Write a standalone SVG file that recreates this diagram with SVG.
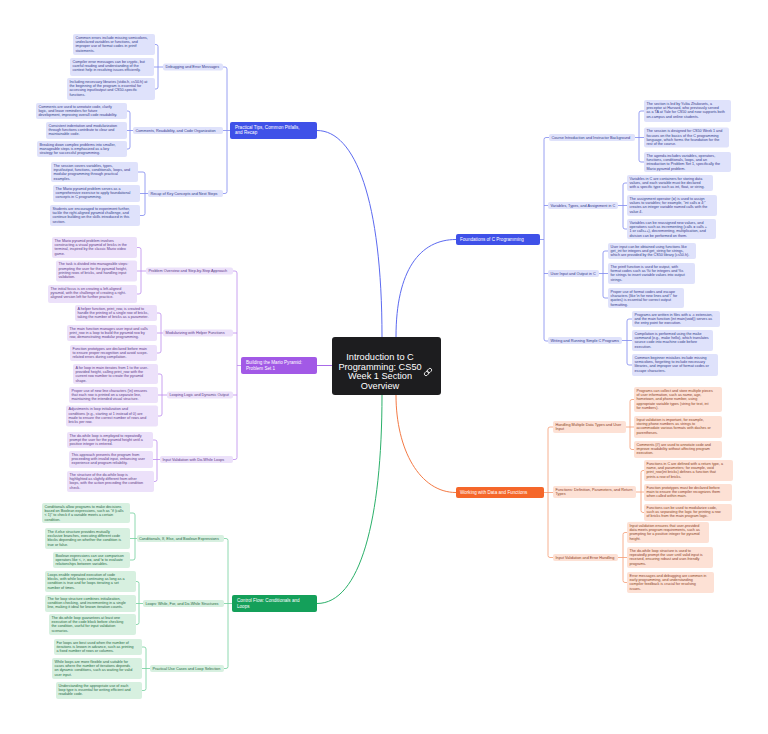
<svg xmlns="http://www.w3.org/2000/svg" width="768" height="734" viewBox="0 0 768 734">
<style>
.t{font-family:"Liberation Sans",Arial,sans-serif;font-size:3.7px}
.lab{font-family:"Liberation Sans",Arial,sans-serif;font-size:3.8px}
.br{font-family:"Liberation Sans",Arial,sans-serif;font-size:4.6px;fill:#fff}
.lf{stroke:none}
.fb{fill:#dfe2fb}.tb{fill:#343a8c}
.fp{fill:#ece1fa}.tp{fill:#5b3a88}
.fg{fill:#d7f0e0}.tg{fill:#1f6a43}
.fo{fill:#fde1d5}.to{fill:#8c3f1e}
.cb{fill:none;stroke:#7f89ef;stroke-width:0.8}
.cp{fill:none;stroke:#bb8cec;stroke-width:0.8}
.cg{fill:none;stroke:#72cf9c;stroke-width:0.8}
.co{fill:none;stroke:#f59c74;stroke-width:0.8}
</style>
<rect width="768" height="734" fill="#ffffff"/>
<g id="connectors">
<path d="M317 130.5C355 130.5 382 200 382 337" fill="none" stroke="#5c6af0" stroke-width="1"/>
<path d="M396 337C396 270 420 239.5 456 239.5" fill="none" stroke="#5c6af0" stroke-width="1"/>
<path d="M317 365.5H332" fill="none" stroke="#a86ae8" stroke-width="1"/>
<path d="M382 395C382 520 360 603.5 317 603.5" fill="none" stroke="#2bb06a" stroke-width="1"/>
<path d="M396 395C396 450 420 492.5 456 492.5" fill="none" stroke="#f47a45" stroke-width="1"/>
<path class="cb" d="M223 67H225Q227 67 227 69V191.5Q227 193.5 225 193.5H223M223 130.5H230"/>
<path class="cb" d="M155 44.5H156Q158 44.5 158 46.5V87Q158 89 156 89H155M154 67H163"/>
<path class="cb" d="M127 111H128Q130 111 130 113V147Q130 149 128 149H127M127 130.5H133"/>
<path class="cb" d="M138 172H143Q145 172 145 174V213.5Q145 215.5 143 215.5H140M140 193.5H148"/>
<path class="cp" d="M233 271H235Q237 271 237 273V457.5Q237 459.5 235 459.5H233M233 333H237M233 395H237M237 365.5H241"/>
<path class="cp" d="M137 247.5H139Q141 247.5 141 249.5V292Q141 294 139 294H137M137 271H146"/>
<path class="cp" d="M157 313H159Q161 313 161 315V351Q161 353 159 353H157M157 333H163"/>
<path class="cp" d="M158 374H160Q162 374 162 376V414Q162 416 160 416H158M158 395H167"/>
<path class="cp" d="M153 440H155Q157 440 157 442V479.5Q157 481.5 155 481.5H154M153 459.5H160"/>
<path class="cg" d="M224 538.5H226Q228 538.5 228 540.5V666.5Q228 668.5 226 668.5H224M224 603.5H232"/>
<path class="cg" d="M130 513H133Q135 513 135 515V558Q135 560 133 560H130M130 538.5H137"/>
<path class="cg" d="M136 581.5H137Q139 581.5 139 583.5V622.5Q139 624.5 137 624.5H136M136 603.5H143"/>
<path class="cg" d="M142 647H144Q146 647 146 649V688.5Q146 690.5 144 690.5H142M142 668.5H150"/>
<path class="cb" d="M549 137.5H546Q544 137.5 544 139.5V339Q544 341 546 341H548M548 205.5H544M548 273.5H544M540 239.5H544"/>
<path class="cb" d="M644 111H641Q639 111 639 113V160Q639 162 641 162H644M635 137.5H644"/>
<path class="cb" d="M627 183H625Q623 183 623 185V227Q623 229 625 229H627M618 205.5H627"/>
<path class="cb" d="M608 251H605Q603 251 603 253V296Q603 298 605 298H608M599 273.5H608"/>
<path class="cb" d="M632 319H629Q627 319 627 321V363Q627 365 629 365H632M622 340.5H632"/>
<path class="co" d="M553 427H550Q548 427 548 429V555.5Q548 557.5 550 557.5H553M544 492.5H553"/>
<path class="co" d="M634 399.5H632Q630 399.5 630 401.5V447.5Q630 449.5 632 449.5H634M626 427H634"/>
<path class="co" d="M644 470.5H643Q641 470.5 641 472.5V510.5Q641 512.5 643 512.5H644M636 492H644"/>
<path class="co" d="M627 532.5H625Q623 532.5 623 534.5V580.5Q623 582.5 625 582.5H627M618 557.5H627"/>
</g>

<g id="center">
<rect x="332" y="337" width="109" height="58" rx="3" fill="#1d1d1f"/>
<text font-family="'Liberation Sans',Arial,sans-serif" font-size="9.2" fill="#fff" text-anchor="middle" x="380" y="360"><tspan x="380">Introduction to C</tspan><tspan x="380" dy="9.7">Programming: CS50</tspan><tspan x="380" dy="9.7">Week 1 Section</tspan><tspan x="380" dy="9.7">Overview</tspan></text>
<g fill="none" stroke="#fff" stroke-width="0.8" transform="rotate(-45 428 372)"><rect x="423.5" y="370.3" width="5" height="3.4" rx="1.7"/><rect x="427.5" y="370.3" width="5" height="3.4" rx="1.7"/></g>
</g>

<g id="practical"><rect x="230" y="122" width="87" height="17" rx="2" fill="#3f51e8"/><text class="br" x="235" y="128.5"><tspan x="235">Practical Tips, Common Pitfalls,</tspan><tspan x="235" dy="5.6">and Recap</tspan></text></g>
<g id="foundations"><rect x="456" y="234" width="84" height="11" rx="2" fill="#3f51e8"/><text class="br" x="460" y="241.2">Foundations of C Programming</text></g>
<g id="mario"><rect x="241" y="357" width="76" height="17" rx="2" fill="#a259e6"/><text class="br" x="246" y="364"><tspan x="246">Building the Mario Pyramid:</tspan><tspan x="246" dy="5.6">Problem Set 1</tspan></text></g>
<g id="control"><rect x="232" y="595" width="85" height="17" rx="2" fill="#14a05a"/><text class="br" x="237" y="602"><tspan x="237">Control Flow: Conditionals and</tspan><tspan x="237" dy="5.6">Loops</tspan></text></g>
<g id="working"><rect x="456" y="487" width="88" height="11" rx="2" fill="#f5672a"/><text class="br" x="460" y="494.2">Working with Data and Functions</text></g>

<g id="lab-debug"><rect class="fb" x="163" y="63.5" width="60" height="7" rx="2"/><text class="lab tb" x="165.5" y="68.3">Debugging and Error Messages</text></g>
<g id="lab-comments"><rect class="fb" x="133" y="127" width="90" height="7" rx="2"/><text class="lab tb" x="135.5" y="131.8">Comments, Readability, and Code Organization</text></g>
<g id="lab-recap"><rect class="fb" x="148" y="190" width="75" height="7" rx="2"/><text class="lab tb" x="150.5" y="194.8">Recap of Key Concepts and Next Steps</text></g>

<g id="d1"><rect class="fb" x="73" y="34" width="82" height="21" rx="2"/><text class="t tb" x="75.5" y="38.6"><tspan x="75.5">Common errors include missing semicolons,</tspan><tspan x="75.5" dy="4.4">undeclared variables or functions, and</tspan><tspan x="75.5" dy="4.4">improper use of format codes in printf</tspan><tspan x="75.5" dy="4.4">statements.</tspan></text></g>
<g id="d2"><rect class="fb" x="70" y="58" width="84" height="18" rx="2"/><text class="t tb" x="72.5" y="62.6"><tspan x="72.5">Compiler error messages can be cryptic, but</tspan><tspan x="72.5" dy="4.4">careful reading and understanding of the</tspan><tspan x="72.5" dy="4.4">context help in resolving issues efficiently.</tspan></text></g>
<g id="d3"><rect class="fb" x="67" y="78" width="88" height="22" rx="2"/><text class="t tb" x="69.5" y="82.6"><tspan x="69.5">Including necessary libraries (stdio.h, cs50.h) at</tspan><tspan x="69.5" dy="4.4">the beginning of the program is essential for</tspan><tspan x="69.5" dy="4.4">accessing input/output and CS50-specific</tspan><tspan x="69.5" dy="4.4">functions.</tspan></text></g>
<g id="c1"><rect class="fb" x="36" y="103" width="91" height="16" rx="2"/><text class="t tb" x="38.5" y="107.6"><tspan x="38.5">Comments are used to annotate code, clarify</tspan><tspan x="38.5" dy="4.4">logic, and leave reminders for future</tspan><tspan x="38.5" dy="4.4">development, improving overall code readability.</tspan></text></g>
<g id="c2"><rect class="fb" x="46" y="122" width="81" height="17" rx="2"/><text class="t tb" x="48.5" y="126.6"><tspan x="48.5">Consistent indentation and modularization</tspan><tspan x="48.5" dy="4.4">through functions contribute to clear and</tspan><tspan x="48.5" dy="4.4">maintainable code.</tspan></text></g>
<g id="c3"><rect class="fb" x="37" y="141" width="90" height="16" rx="2"/><text class="t tb" x="39.5" y="145.6"><tspan x="39.5">Breaking down complex problems into smaller,</tspan><tspan x="39.5" dy="4.4">manageable steps is emphasized as a key</tspan><tspan x="39.5" dy="4.4">strategy for successful programming.</tspan></text></g>
<g id="r1"><rect class="fb" x="51" y="162" width="87" height="20" rx="2"/><text class="t tb" x="53.5" y="166.6"><tspan x="53.5">The session covers variables, types,</tspan><tspan x="53.5" dy="4.4">input/output, functions, conditionals, loops, and</tspan><tspan x="53.5" dy="4.4">modular programming through practical</tspan><tspan x="53.5" dy="4.4">examples.</tspan></text></g>
<g id="r2"><rect class="fb" x="53" y="185" width="87" height="17" rx="2"/><text class="t tb" x="55.5" y="189.6"><tspan x="55.5">The Mario pyramid problem serves as a</tspan><tspan x="55.5" dy="4.4">comprehensive exercise to apply foundational</tspan><tspan x="55.5" dy="4.4">concepts in C programming.</tspan></text></g>
<g id="r3"><rect class="fb" x="50" y="205" width="90" height="21" rx="2"/><text class="t tb" x="52.5" y="209.6"><tspan x="52.5">Students are encouraged to experiment further,</tspan><tspan x="52.5" dy="4.4">tackle the right-aligned pyramid challenge, and</tspan><tspan x="52.5" dy="4.4">continue building on the skills introduced in this</tspan><tspan x="52.5" dy="4.4">section.</tspan></text></g>

<g id="lab-problem"><rect class="fp" x="146" y="267.5" width="87" height="7" rx="2"/><text class="lab tp" x="148.5" y="272.3">Problem Overview and Step-by-Step Approach</text></g>
<g id="lab-modular"><rect class="fp" x="163" y="329.5" width="70" height="7" rx="2"/><text class="lab tp" x="165.5" y="334.3">Modularizing with Helper Functions</text></g>
<g id="lab-looping"><rect class="fp" x="167" y="391.5" width="66" height="7" rx="2"/><text class="lab tp" x="169.5" y="396.3">Looping Logic and Dynamic Output</text></g>
<g id="lab-inputval"><rect class="fp" x="160" y="456" width="73" height="7" rx="2"/><text class="lab tp" x="162.5" y="460.8">Input Validation with Do-While Loops</text></g>

<g id="p1"><rect class="fp" x="52" y="237" width="85" height="21" rx="2"/><text class="t tp" x="54.5" y="241.6"><tspan x="54.5">The Mario pyramid problem involves</tspan><tspan x="54.5" dy="4.4">constructing a visual pyramid of bricks in the</tspan><tspan x="54.5" dy="4.4">terminal, inspired by the classic Mario video</tspan><tspan x="54.5" dy="4.4">game.</tspan></text></g>
<g id="p2"><rect class="fp" x="56" y="260.5" width="81" height="21" rx="2"/><text class="t tp" x="58.5" y="265.1"><tspan x="58.5">The task is divided into manageable steps:</tspan><tspan x="58.5" dy="4.4">prompting the user for the pyramid height,</tspan><tspan x="58.5" dy="4.4">printing rows of bricks, and handling input</tspan><tspan x="58.5" dy="4.4">validation.</tspan></text></g>
<g id="p3"><rect class="fp" x="48" y="285" width="89" height="18" rx="2"/><text class="t tp" x="50.5" y="289.6"><tspan x="50.5">The initial focus is on creating a left-aligned</tspan><tspan x="50.5" dy="4.4">pyramid, with the challenge of creating a right-</tspan><tspan x="50.5" dy="4.4">aligned version left for further practice.</tspan></text></g>
<g id="m1"><rect class="fp" x="75" y="305" width="82" height="16" rx="2"/><text class="t tp" x="77.5" y="309.6"><tspan x="77.5">A helper function, print_row, is created to</tspan><tspan x="77.5" dy="4.4">handle the printing of a single row of bricks,</tspan><tspan x="77.5" dy="4.4">taking the number of bricks as a parameter.</tspan></text></g>
<g id="m2"><rect class="fp" x="67" y="325" width="90" height="16" rx="2"/><text class="t tp" x="69.5" y="329.6"><tspan x="69.5">The main function manages user input and calls</tspan><tspan x="69.5" dy="4.4">print_row in a loop to build the pyramid row by</tspan><tspan x="69.5" dy="4.4">row, demonstrating modular programming.</tspan></text></g>
<g id="m3"><rect class="fp" x="70" y="345" width="87" height="16" rx="2"/><text class="t tp" x="72.5" y="349.6"><tspan x="72.5">Function prototypes are declared before main</tspan><tspan x="72.5" dy="4.4">to ensure proper recognition and avoid scope-</tspan><tspan x="72.5" dy="4.4">related errors during compilation.</tspan></text></g>
<g id="l1"><rect class="fp" x="73" y="364" width="85" height="20" rx="2"/><text class="t tp" x="75.5" y="368.6"><tspan x="75.5">A for loop in main iterates from 1 to the user-</tspan><tspan x="75.5" dy="4.4">provided height, calling print_row with the</tspan><tspan x="75.5" dy="4.4">current row number to create the pyramid</tspan><tspan x="75.5" dy="4.4">shape.</tspan></text></g>
<g id="l2"><rect class="fp" x="69" y="387" width="89" height="16" rx="2"/><text class="t tp" x="71.5" y="391.6"><tspan x="71.5">Proper use of new line characters (\n) ensures</tspan><tspan x="71.5" dy="4.4">that each row is printed on a separate line,</tspan><tspan x="71.5" dy="4.4">maintaining the intended visual structure.</tspan></text></g>
<g id="l3"><rect class="fp" x="66" y="405.5" width="92" height="21" rx="2"/><text class="t tp" x="68.5" y="410.1"><tspan x="68.5">Adjustments in loop initialization and</tspan><tspan x="68.5" dy="4.4">conditions (e.g., starting at 1 instead of 0) are</tspan><tspan x="68.5" dy="4.4">made to ensure the correct number of rows and</tspan><tspan x="68.5" dy="4.4">bricks per row.</tspan></text></g>
<g id="i1"><rect class="fp" x="67" y="432" width="86" height="16" rx="2"/><text class="t tp" x="69.5" y="436.6"><tspan x="69.5">The do-while loop is employed to repeatedly</tspan><tspan x="69.5" dy="4.4">prompt the user for the pyramid height until a</tspan><tspan x="69.5" dy="4.4">positive integer is entered.</tspan></text></g>
<g id="i2"><rect class="fp" x="69" y="451" width="84" height="17" rx="2"/><text class="t tp" x="71.5" y="455.6"><tspan x="71.5">This approach prevents the program from</tspan><tspan x="71.5" dy="4.4">proceeding with invalid input, enhancing user</tspan><tspan x="71.5" dy="4.4">experience and program reliability.</tspan></text></g>
<g id="i3"><rect class="fp" x="67" y="471" width="87" height="21" rx="2"/><text class="t tp" x="69.5" y="475.6"><tspan x="69.5">The structure of the do-while loop is</tspan><tspan x="69.5" dy="4.4">highlighted as slightly different from other</tspan><tspan x="69.5" dy="4.4">loops, with the action preceding the condition</tspan><tspan x="69.5" dy="4.4">check.</tspan></text></g>

<g id="lab-cond"><rect class="fg" x="137" y="535" width="87" height="7" rx="2"/><text class="lab tg" x="139" y="539.8">Conditionals, If, Else, and Boolean Expressions</text></g>
<g id="lab-loops"><rect class="fg" x="143" y="600" width="81" height="7" rx="2"/><text class="lab tg" x="145.5" y="604.8">Loops: While, For, and Do-While Structures</text></g>
<g id="lab-usecases"><rect class="fg" x="150" y="665" width="74" height="7" rx="2"/><text class="lab tg" x="152.5" y="669.8">Practical Use Cases and Loop Selection</text></g>

<g id="g1"><rect class="fg" x="42" y="503" width="88" height="20" rx="2"/><text class="t tg" x="44.5" y="507.6"><tspan x="44.5">Conditionals allow programs to make decisions</tspan><tspan x="44.5" dy="4.4">based on Boolean expressions, such as "if (calls</tspan><tspan x="44.5" dy="4.4">&lt; 1)" to check if a variable meets a certain</tspan><tspan x="44.5" dy="4.4">condition.</tspan></text></g>
<g id="g2"><rect class="fg" x="45" y="528" width="85" height="21" rx="2"/><text class="t tg" x="47.5" y="532.6"><tspan x="47.5">The if-else structure provides mutually</tspan><tspan x="47.5" dy="4.4">exclusive branches, executing different code</tspan><tspan x="47.5" dy="4.4">blocks depending on whether the condition is</tspan><tspan x="47.5" dy="4.4">true or false.</tspan></text></g>
<g id="g3"><rect class="fg" x="53" y="552" width="77" height="16" rx="2"/><text class="t tg" x="55.5" y="556.6"><tspan x="55.5">Boolean expressions can use comparison</tspan><tspan x="55.5" dy="4.4">operators like &lt;, &gt;, ==, and != to evaluate</tspan><tspan x="55.5" dy="4.4">relationships between variables.</tspan></text></g>
<g id="o1"><rect class="fg" x="45" y="571" width="91" height="21" rx="2"/><text class="t tg" x="47.5" y="575.6"><tspan x="47.5">Loops enable repeated execution of code</tspan><tspan x="47.5" dy="4.4">blocks, with while loops continuing as long as a</tspan><tspan x="47.5" dy="4.4">condition is true and for loops iterating a set</tspan><tspan x="47.5" dy="4.4">number of times.</tspan></text></g>
<g id="o2"><rect class="fg" x="45" y="595" width="91" height="17" rx="2"/><text class="t tg" x="47.5" y="599.6"><tspan x="47.5">The for loop structure combines initialization,</tspan><tspan x="47.5" dy="4.4">condition checking, and incrementing in a single</tspan><tspan x="47.5" dy="4.4">line, making it ideal for known iteration counts.</tspan></text></g>
<g id="o3"><rect class="fg" x="49" y="614" width="87" height="21" rx="2"/><text class="t tg" x="51.5" y="618.6"><tspan x="51.5">The do-while loop guarantees at least one</tspan><tspan x="51.5" dy="4.4">execution of the code block before checking</tspan><tspan x="51.5" dy="4.4">the condition, useful for input validation</tspan><tspan x="51.5" dy="4.4">scenarios.</tspan></text></g>
<g id="u1"><rect class="fg" x="54" y="639" width="88" height="16" rx="2"/><text class="t tg" x="56.5" y="643.6"><tspan x="56.5">For loops are best used when the number of</tspan><tspan x="56.5" dy="4.4">iterations is known in advance, such as printing</tspan><tspan x="56.5" dy="4.4">a fixed number of rows or columns.</tspan></text></g>
<g id="u2"><rect class="fg" x="52" y="658" width="90" height="21" rx="2"/><text class="t tg" x="54.5" y="662.6"><tspan x="54.5">While loops are more flexible and suitable for</tspan><tspan x="54.5" dy="4.4">cases where the number of iterations depends</tspan><tspan x="54.5" dy="4.4">on dynamic conditions, such as waiting for valid</tspan><tspan x="54.5" dy="4.4">user input.</tspan></text></g>
<g id="u3"><rect class="fg" x="56" y="682" width="86" height="17" rx="2"/><text class="t tg" x="58.5" y="686.6"><tspan x="58.5">Understanding the appropriate use of each</tspan><tspan x="58.5" dy="4.4">loop type is essential for writing efficient and</tspan><tspan x="58.5" dy="4.4">readable code.</tspan></text></g>

<g id="lab-course"><rect class="fb" x="549" y="134" width="86" height="7" rx="2"/><text class="lab tb" x="551.5" y="138.8">Course Introduction and Instructor Background</text></g>
<g id="lab-vars"><rect class="fb" x="548" y="202" width="70" height="7" rx="2"/><text class="lab tb" x="550.5" y="206.8">Variables, Types, and Assignment in C</text></g>
<g id="lab-io"><rect class="fb" x="548" y="270" width="51" height="7" rx="2"/><text class="lab tb" x="550.5" y="274.8">User Input and Output in C</text></g>
<g id="lab-writing"><rect class="fb" x="548" y="337" width="74" height="7" rx="2"/><text class="lab tb" x="550.5" y="341.8">Writing and Running Simple C Programs</text></g>

<g id="fa1"><rect class="fb" x="644" y="100" width="87" height="22" rx="2"/><text class="t tb" x="646.5" y="104.6"><tspan x="646.5">The section is led by Yuliia Zhukovets, a</tspan><tspan x="646.5" dy="4.4">preceptor at Harvard, who previously served</tspan><tspan x="646.5" dy="4.4">as a TA at Yale for CS50 and now supports both</tspan><tspan x="646.5" dy="4.4">on-campus and online students.</tspan></text></g>
<g id="fa2"><rect class="fb" x="644" y="127.5" width="85" height="20" rx="2"/><text class="t tb" x="646.5" y="132.1"><tspan x="646.5">The session is designed for CS50 Week 1 and</tspan><tspan x="646.5" dy="4.4">focuses on the basics of the C programming</tspan><tspan x="646.5" dy="4.4">language, which forms the foundation for the</tspan><tspan x="646.5" dy="4.4">rest of the course.</tspan></text></g>
<g id="fa3"><rect class="fb" x="644" y="152" width="87" height="20" rx="2"/><text class="t tb" x="646.5" y="156.6"><tspan x="646.5">The agenda includes variables, operators,</tspan><tspan x="646.5" dy="4.4">functions, conditionals, loops, and an</tspan><tspan x="646.5" dy="4.4">introduction to Problem Set 1, specifically the</tspan><tspan x="646.5" dy="4.4">Mario pyramid problem.</tspan></text></g>
<g id="fb1"><rect class="fb" x="627" y="175" width="86" height="16" rx="2"/><text class="t tb" x="629.5" y="179.6"><tspan x="629.5">Variables in C are containers for storing data</tspan><tspan x="629.5" dy="4.4">values, and each variable must be declared</tspan><tspan x="629.5" dy="4.4">with a specific type such as int, float, or string.</tspan></text></g>
<g id="fb2"><rect class="fb" x="627" y="195" width="90" height="21" rx="2"/><text class="t tb" x="629.5" y="199.6"><tspan x="629.5">The assignment operator (=) is used to assign</tspan><tspan x="629.5" dy="4.4">values to variables; for example, "int calls = 4;"</tspan><tspan x="629.5" dy="4.4">creates an integer variable named calls with the</tspan><tspan x="629.5" dy="4.4">value 4.</tspan></text></g>
<g id="fb3"><rect class="fb" x="627" y="219" width="89" height="20" rx="2"/><text class="t tb" x="629.5" y="223.6"><tspan x="629.5">Variables can be reassigned new values, and</tspan><tspan x="629.5" dy="4.4">operations such as incrementing (calls = calls +</tspan><tspan x="629.5" dy="4.4">1 or calls++), decrementing, multiplication, and</tspan><tspan x="629.5" dy="4.4">division can be performed on them.</tspan></text></g>
<g id="fc1"><rect class="fb" x="608" y="243" width="88" height="16" rx="2"/><text class="t tb" x="610.5" y="247.6"><tspan x="610.5">User input can be obtained using functions like</tspan><tspan x="610.5" dy="4.4">get_int for integers and get_string for strings,</tspan><tspan x="610.5" dy="4.4">which are provided by the CS50 library (cs50.h).</tspan></text></g>
<g id="fc2"><rect class="fb" x="608" y="263" width="87" height="21" rx="2"/><text class="t tb" x="610.5" y="267.6"><tspan x="610.5">The printf function is used for output, with</tspan><tspan x="610.5" dy="4.4">format codes such as %i for integers and %s</tspan><tspan x="610.5" dy="4.4">for strings to insert variable values into output</tspan><tspan x="610.5" dy="4.4">strings.</tspan></text></g>
<g id="fc3"><rect class="fb" x="608" y="288" width="76" height="20" rx="2"/><text class="t tb" x="610.5" y="292.6"><tspan x="610.5">Proper use of format codes and escape</tspan><tspan x="610.5" dy="4.4">characters (like \n for new lines and \" for</tspan><tspan x="610.5" dy="4.4">quotes) is essential for correct output</tspan><tspan x="610.5" dy="4.4">formatting.</tspan></text></g>
<g id="fd1"><rect class="fb" x="632" y="311" width="88" height="16" rx="2"/><text class="t tb" x="634.5" y="315.6"><tspan x="634.5">Programs are written in files with a .c extension,</tspan><tspan x="634.5" dy="4.4">and the main function (int main(void)) serves as</tspan><tspan x="634.5" dy="4.4">the entry point for execution.</tspan></text></g>
<g id="fd2"><rect class="fb" x="632" y="330" width="81" height="21" rx="2"/><text class="t tb" x="634.5" y="334.6"><tspan x="634.5">Compilation is performed using the make</tspan><tspan x="634.5" dy="4.4">command (e.g., make hello), which translates</tspan><tspan x="634.5" dy="4.4">source code into machine code before</tspan><tspan x="634.5" dy="4.4">execution.</tspan></text></g>
<g id="fd3"><rect class="fb" x="632" y="354" width="86" height="22" rx="2"/><text class="t tb" x="634.5" y="358.6"><tspan x="634.5">Common beginner mistakes include missing</tspan><tspan x="634.5" dy="4.4">semicolons, forgetting to include necessary</tspan><tspan x="634.5" dy="4.4">libraries, and improper use of format codes or</tspan><tspan x="634.5" dy="4.4">escape characters.</tspan></text></g>

<g id="lab-handling"><rect class="fo" x="553" y="421" width="73" height="12" rx="2"/><text class="lab to" x="555.5" y="425.8"><tspan x="555.5">Handling Multiple Data Types and User</tspan><tspan x="555.5" dy="4.6">Input</tspan></text></g>
<g id="lab-functions"><rect class="fo" x="553" y="486" width="83" height="12" rx="2"/><text class="lab to" x="555.5" y="490.8"><tspan x="555.5">Functions: Definition, Parameters, and Return</tspan><tspan x="555.5" dy="4.6">Types</tspan></text></g>
<g id="lab-errors"><rect class="fo" x="553" y="554" width="65" height="7" rx="2"/><text class="lab to" x="555.5" y="558.8">Input Validation and Error Handling</text></g>

<g id="wa1"><rect class="fo" x="634" y="387" width="88" height="25" rx="2"/><text class="t to" x="636.5" y="391.6"><tspan x="636.5">Programs can collect and store multiple pieces</tspan><tspan x="636.5" dy="4.4">of user information, such as name, age,</tspan><tspan x="636.5" dy="4.4">hometown, and phone number, using</tspan><tspan x="636.5" dy="4.4">appropriate variable types (string for text, int</tspan><tspan x="636.5" dy="4.4">for numbers).</tspan></text></g>
<g id="wa2"><rect class="fo" x="634" y="416" width="88" height="22" rx="2"/><text class="t to" x="636.5" y="420.6"><tspan x="636.5">Input validation is important, for example,</tspan><tspan x="636.5" dy="4.4">storing phone numbers as strings to</tspan><tspan x="636.5" dy="4.4">accommodate various formats with dashes or</tspan><tspan x="636.5" dy="4.4">parentheses.</tspan></text></g>
<g id="wa3"><rect class="fo" x="634" y="441" width="88" height="17" rx="2"/><text class="t to" x="636.5" y="445.6"><tspan x="636.5">Comments (//) are used to annotate code and</tspan><tspan x="636.5" dy="4.4">improve readability without affecting program</tspan><tspan x="636.5" dy="4.4">execution.</tspan></text></g>
<g id="wb1"><rect class="fo" x="644" y="460" width="89" height="21" rx="2"/><text class="t to" x="646.5" y="464.6"><tspan x="646.5">Functions in C are defined with a return type, a</tspan><tspan x="646.5" dy="4.4">name, and parameters; for example, void</tspan><tspan x="646.5" dy="4.4">print_row(int bricks) defines a function that</tspan><tspan x="646.5" dy="4.4">prints a row of bricks.</tspan></text></g>
<g id="wb2"><rect class="fo" x="644" y="484" width="88" height="17" rx="2"/><text class="t to" x="646.5" y="488.6"><tspan x="646.5">Function prototypes must be declared before</tspan><tspan x="646.5" dy="4.4">main to ensure the compiler recognizes them</tspan><tspan x="646.5" dy="4.4">when called within main.</tspan></text></g>
<g id="wb3"><rect class="fo" x="644" y="504" width="88" height="17" rx="2"/><text class="t to" x="646.5" y="508.6"><tspan x="646.5">Functions can be used to modularize code,</tspan><tspan x="646.5" dy="4.4">such as separating the logic for printing a row</tspan><tspan x="646.5" dy="4.4">of bricks from the main program logic.</tspan></text></g>
<g id="wc1"><rect class="fo" x="627" y="522" width="82" height="21" rx="2"/><text class="t to" x="629.5" y="526.6"><tspan x="629.5">Input validation ensures that user-provided</tspan><tspan x="629.5" dy="4.4">data meets program requirements, such as</tspan><tspan x="629.5" dy="4.4">prompting for a positive integer for pyramid</tspan><tspan x="629.5" dy="4.4">height.</tspan></text></g>
<g id="wc2"><rect class="fo" x="627" y="547" width="86" height="21" rx="2"/><text class="t to" x="629.5" y="551.6"><tspan x="629.5">The do-while loop structure is used to</tspan><tspan x="629.5" dy="4.4">repeatedly prompt the user until valid input is</tspan><tspan x="629.5" dy="4.4">received, ensuring robust and user-friendly</tspan><tspan x="629.5" dy="4.4">programs.</tspan></text></g>
<g id="wc3"><rect class="fo" x="627" y="572" width="87" height="21" rx="2"/><text class="t to" x="629.5" y="576.6"><tspan x="629.5">Error messages and debugging are common in</tspan><tspan x="629.5" dy="4.4">early programming, and understanding</tspan><tspan x="629.5" dy="4.4">compiler feedback is crucial for resolving</tspan><tspan x="629.5" dy="4.4">issues.</tspan></text></g>
</svg>
